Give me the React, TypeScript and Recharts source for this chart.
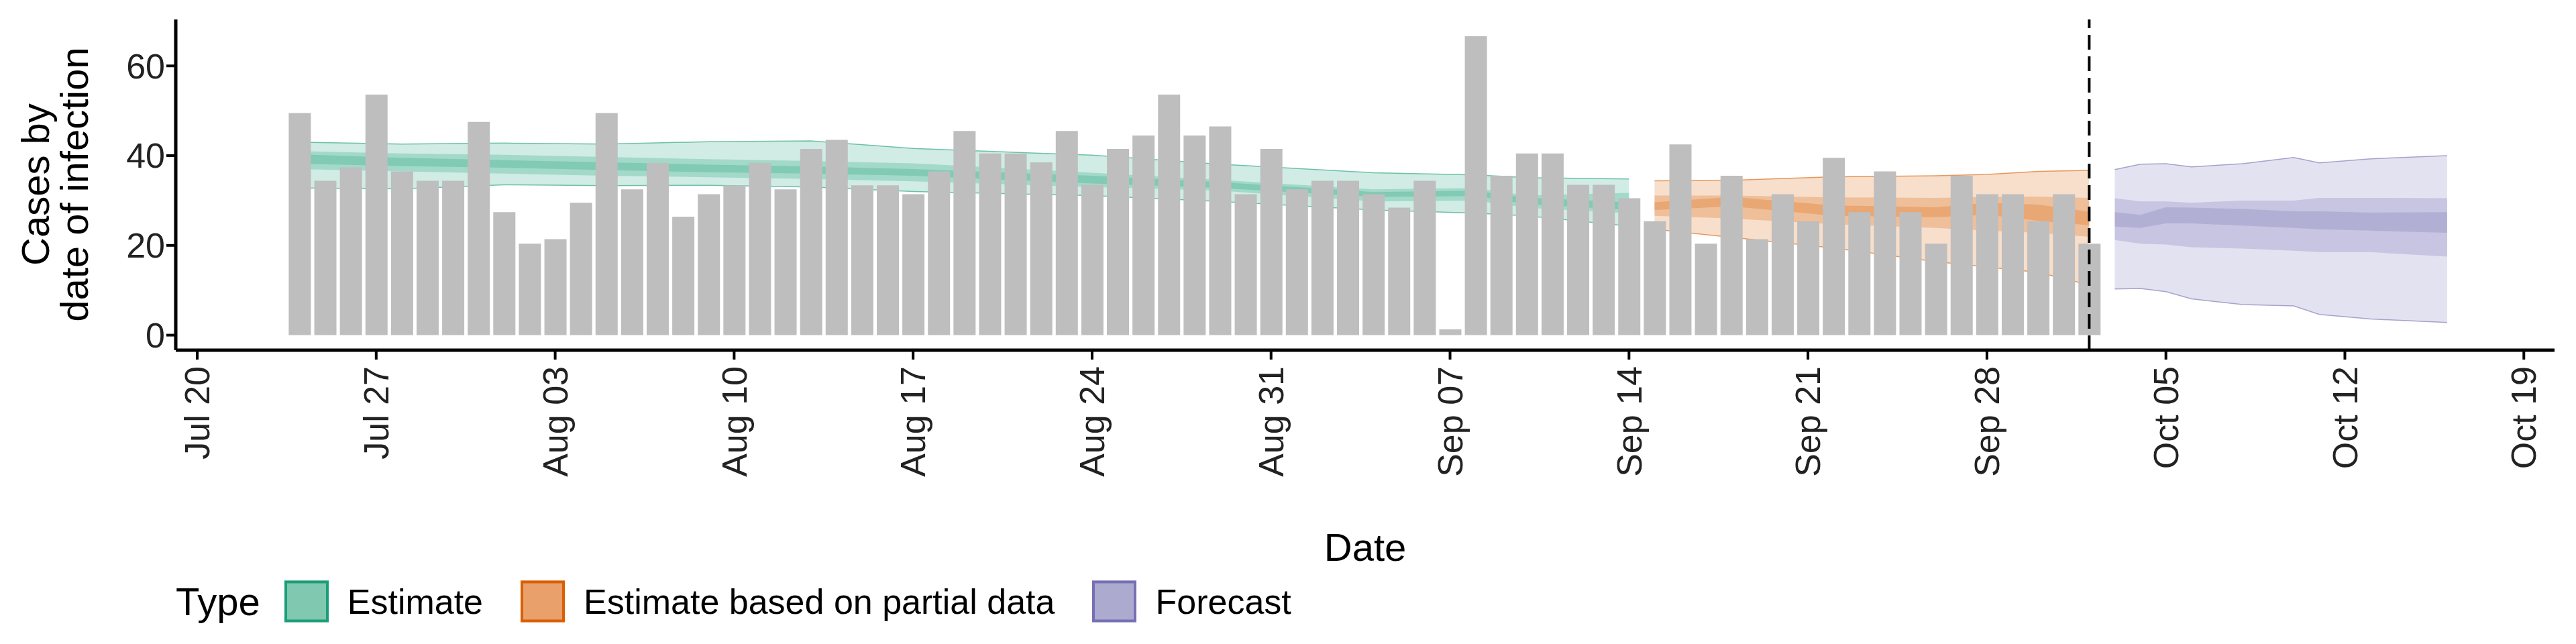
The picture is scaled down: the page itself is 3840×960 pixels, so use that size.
import React from 'react';
import { ComposedChart, Bar, Area, XAxis, YAxis, ReferenceLine } from 'recharts';

// day index: 0 = Jul 20
const BAR_START = 4;
const cases = [
  49.5, 34.4, 37.4, 53.6, 36.5, 34.4, 34.4, 47.5, 27.4, 20.4, 21.4, 29.5, 49.5, 32.5, 38.4, 26.4,
  31.4, 33.4, 38.4, 32.5, 41.5, 43.5, 33.4, 33.4, 31.4, 36.5,
  45.5, 40.5, 40.5, 38.5, 45.5, 33.5, 41.5, 44.5, 53.6, 44.5, 46.5, 31.4, 41.5, 32.5, 34.4, 34.4,
  31.4, 28.4, 34.4, 1.3, 66.6, 35.5, 40.5, 40.5, 33.5, 33.5, 30.5, 25.4, 42.5, 20.4, 35.5,
  21.4, 31.4, 25.4, 39.5, 27.4, 36.5, 27.4, 20.4, 35.5, 31.4, 31.4, 25.4, 31.4, 20.4,
];

// ribbons: [day, outerLo, midLo, innerLo, innerHi, midHi, outerHi]
const estimate = [
  [4, 32.8, 37.0, 38.2, 40.3, 41.0, 43.0],
  [8, 32.6, 36.5, 37.7, 39.5, 40.5, 42.6],
  [12, 33.5, 36.0, 37.3, 39.0, 40.2, 42.8],
  [16, 33.3, 35.5, 36.8, 38.5, 39.7, 42.6],
  [20, 33.4, 35.2, 36.3, 38.0, 39.2, 43.1],
  [24, 33.0, 34.8, 36.0, 37.6, 38.8, 43.3],
  [28, 32.0, 34.3, 35.5, 37.0, 38.3, 41.6],
  [35, 31.1, 33.0, 33.8, 35.5, 36.2, 40.1],
  [40, 29.8, 32.2, 32.8, 34.1, 34.6, 38.1],
  [46, 27.9, 29.8, 30.8, 31.9, 32.5, 36.2],
  [50, 27.2, 30.0, 31.0, 32.2, 32.8, 35.7],
  [52, 26.6, 28.4, 29.2, 30.6, 31.1, 35.1],
  [56, 24.3, 27.2, 27.9, 29.6, 31.7, 34.8],
];
const partial = [
  [57, 23.6, 26.6, 27.9, 29.6, 31.1, 34.4],
  [60, 21.8, 26.0, 28.7, 30.8, 31.1, 34.5],
  [64, 19.4, 24.7, 26.6, 28.9, 30.7, 35.3],
  [68, 16.4, 23.9, 26.3, 28.5, 30.6, 35.5],
  [70, 15.2, 23.3, 26.8, 29.5, 30.8, 35.8],
  [72, 14.0, 22.8, 25.5, 29.1, 30.9, 36.5],
  [74, 11.2, 21.9, 24.5, 27.5, 30.6, 36.7],
];
const forecast = [
  [75, 10.3, 21.2, 24.2, 27.4, 30.5, 36.9],
  [76, 10.4, 20.4, 23.9, 26.8, 29.8, 38.1],
  [77, 9.7, 20.2, 24.9, 28.5, 29.8, 38.2],
  [78, 8.1, 19.6, 24.9, 28.4, 29.5, 37.5],
  [80, 6.8, 19.3, 24.4, 28.1, 30.0, 38.2],
  [82, 6.5, 18.8, 23.9, 27.6, 30.0, 39.6],
  [83, 4.6, 18.5, 23.6, 27.6, 30.6, 38.4],
  [85, 3.6, 18.5, 23.3, 27.3, 30.6, 39.3],
  [88, 2.8, 17.5, 22.8, 27.4, 30.5, 40.0],
];

const tickDays = [0, 7, 14, 21, 28, 35, 42, 49, 56, 63, 70, 77, 84, 91];
const tickLabels = ['Jul 20', 'Jul 27', 'Aug 03', 'Aug 10', 'Aug 17', 'Aug 24', 'Aug 31', 'Sep 07', 'Sep 14', 'Sep 21', 'Sep 28', 'Oct 05', 'Oct 12', 'Oct 19'];

const SERIES = [
  { key: 'e', rows: estimate, color: '#1B9E77', fill: '#80C8B0', label: 'Estimate' },
  { key: 'p', rows: partial, color: '#D95F02', fill: '#E9A06B', label: 'Estimate based on partial data' },
  { key: 'f', rows: forecast, color: '#7570B3', fill: '#ADAAD0', label: 'Forecast' },
];

const byDay: Record<number, any> = {};
const row = (d: number) => (byDay[d] = byDay[d] || { day: d });
cases.forEach((v, i) => { row(BAR_START + i).cases = v; });
SERIES.forEach(s => s.rows.forEach(r => {
  const o = row(r[0]);
  o[s.key + 'Outer'] = [r[1], r[6]];
  o[s.key + 'Mid'] = [r[2], r[5]];
  o[s.key + 'Inner'] = [r[3], r[4]];
}));
const data = Object.values(byDay).sort((a: any, b: any) => a.day - b.day);

const FONT = '"Liberation Sans", Arial, sans-serif';

const XTick = (props: any) => {
  const { x, y, payload } = props;
  const i = tickDays.indexOf(payload.value);
  return (
    <text transform={`translate(${x},${y + 8}) rotate(-90)`} textAnchor="end" dy="0.35em"
      fontSize={52} fill="#222" fontFamily={FONT}>{tickLabels[i]}</text>
  );
};

export default function App() {
  document.body.style.margin = '0';
  return (
    <div style={{ position: 'relative', width: 3840, height: 960, background: '#fff', fontFamily: FONT }}>
      <ComposedChart width={3840} height={960} data={data}
        margin={{ top: 29, right: 32, left: 0, bottom: 218 }}>
        <XAxis dataKey="day" type="number" domain={[-0.84, 92.2]} ticks={tickDays}
          allowDataOverflow tick={<XTick />} height={220}
          axisLine={{ stroke: '#000', strokeWidth: 5 }} tickLine={{ stroke: '#000', strokeWidth: 4 }} tickSize={14} />
        <YAxis type="number" domain={[-3.35, 70.35]} ticks={[0, 20, 40, 60]} width={262}
          allowDataOverflow tick={{ fontSize: 52, fill: '#222', fontFamily: FONT }}
          axisLine={{ stroke: '#000', strokeWidth: 5 }} tickLine={{ stroke: '#000', strokeWidth: 4 }} tickSize={14} />
        <Bar dataKey="cases" fill="#BEBEBE" barSize={33} isAnimationActive={false} />
        {SERIES.map(s => [
          <Area key={s.key + 'o'} dataKey={s.key + 'Outer'} type="linear" stroke={s.color} strokeWidth={1.5}
            strokeOpacity={0.6} fill={s.color} fillOpacity={0.2} connectNulls
            isAnimationActive={false} dot={false} activeDot={false} />,
          <Area key={s.key + 'm'} dataKey={s.key + 'Mid'} type="linear" stroke="none" connectNulls
            fill={s.color} fillOpacity={0.25} isAnimationActive={false} dot={false} activeDot={false} />,
          <Area key={s.key + 'i'} dataKey={s.key + 'Inner'} type="linear" stroke="none" connectNulls
            fill={s.color} fillOpacity={0.25} isAnimationActive={false} dot={false} activeDot={false} />,
        ])}
        <ReferenceLine x={74} stroke="#000" strokeWidth={4} strokeDasharray="22 10" />
      </ComposedChart>

      <div style={{ position: 'absolute', left: 82, top: 275, transform: 'translate(-50%,-50%) rotate(-90deg)',
        fontSize: 58, lineHeight: '58px', textAlign: 'center', whiteSpace: 'nowrap', color: '#000' }}>
        Cases by<br />date of infection
      </div>
      <div style={{ position: 'absolute', left: 2035, top: 815, transform: 'translate(-50%,-50%)', fontSize: 58, color: '#000' }}>
        Date
      </div>
      <div style={{ position: 'absolute', left: 262, top: 896, transform: 'translateY(-50%)', display: 'flex',
        alignItems: 'center', fontSize: 52, color: '#000' }}>
        <span style={{ fontSize: 58, marginRight: 36 }}>Type</span>
        {SERIES.map(s => (
          <span key={s.key} style={{ display: 'flex', alignItems: 'center', marginRight: 56 }}>
            <span style={{ width: 66, height: 62, background: s.fill, border: `4px solid ${s.color}`,
              boxSizing: 'border-box', marginRight: 28, display: 'inline-block' }} />
            {s.label}
          </span>
        ))}
      </div>
    </div>
  );
}
